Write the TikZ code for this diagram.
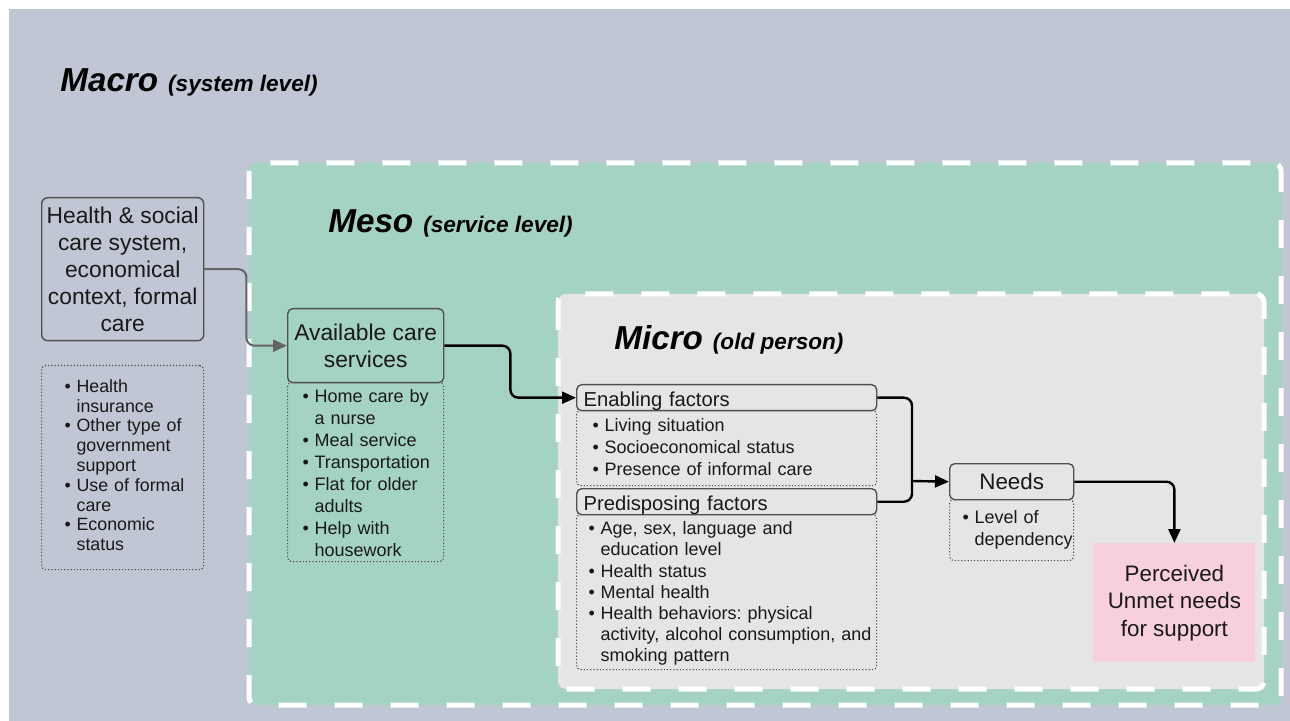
\documentclass[tikz,border=0pt]{standalone}
\usepackage{fontspec}
\setmainfont{Liberation Sans}
\usetikzlibrary{arrows.meta}
\frenchspacing

\definecolor{macrobg}{RGB}{193,198,212}
\definecolor{mesobg}{RGB}{165,211,195}
\definecolor{microbg}{RGB}{229,229,229}
\definecolor{unmetbg}{RGB}{248,207,220}
\definecolor{boxline}{RGB}{80,80,80}
\definecolor{arrowgray}{RGB}{100,100,100}
\definecolor{txt}{RGB}{25,25,25}

\newlength\bulx
\newlength\bulw \setlength\bulw{6pt}
\newcommand\bl[1]{\par\noindent\hspace*{\bulx}\makebox[\bulw][l]{\textbullet}\mbox{#1}}
\newcommand\cl[1]{\par\noindent\hspace*{\bulx}\hspace*{\bulw}\mbox{#1}}
\newcommand\levelnote[1]{\hspace{5pt}{\fontsize{11.3}{14}\selectfont #1}}

\tikzset{
  levelline/.style={draw=white, line width=2.5pt, dash pattern=on 14pt off 14pt, rounded corners=4pt},
  title/.style={anchor=base west, inner sep=0pt, font=\fontsize{16.6}{20}\selectfont\bfseries\itshape},
  hdrbox/.style={draw=boxline, line width=0.7pt, rounded corners=2.5pt, inner sep=0pt, text=txt, anchor=north west},
  factorbox/.style={hdrbox, inner xsep=3.5pt, text width=143pt, minimum height=13pt, align=left,
    text height=9pt, text depth=0.5pt, font=\fontsize{10.1}{12}\selectfont},
  listbox/.style={draw=boxline, line width=0.6pt, densely dotted, rounded corners=2pt, inner sep=0pt,
    align=left, text=txt, anchor=north west, font=\fontsize{9}{11}\selectfont,
    execute at begin node={\setlength\bulx{#1}}},
  lift/.style={execute at begin node={\vspace*{-#1}}},
  conn/.style={line width=1.2pt, rounded corners=4pt, -{Triangle[length=7pt,width=6pt]}}
}

\begin{document}
\begin{tikzpicture}[x=0.5pt, y=-0.5pt]
\useasboundingbox (0,0) rectangle (1290,721);

% levels
\fill[macrobg] (9,9) rectangle (1290,721);
\fill[mesobg, rounded corners=4pt] (249,163) rectangle (1282,705);
\draw[levelline] (249,163) rectangle (1281,705);
\fill[microbg, rounded corners=4pt] (558,294) rectangle (1264,689);
\draw[levelline] (558,294) rectangle (1264,689);

\node[title] (macrot) at (60,92) {Macro\levelnote{(system level)}};
\node[title] (mesot) at (328,233) {Meso\levelnote{(service level)}};
\node[title] (microt) at (614,350) {Micro\levelnote{(old person)}};

% macro
\node[hdrbox, rounded corners=3pt, minimum width=81pt, minimum height=71.5pt, align=center,
  font=\fontsize{11.4}{13.5}\selectfont] (hsys) at (41,197)
  {Health \& social\\care system,\\economical\\context, formal\\care};
\node[listbox=11.5pt, lift=6pt, text width=81pt, minimum height=102pt, font=\fontsize{8.9}{9.9}\selectfont]
  (hsysl) at (41,365)
  {\bl{Health}\cl{insurance}\bl{Other type of}\cl{government}\cl{support}\bl{Use of formal}\cl{care}\bl{Economic}\cl{status}};

% meso
\node[hdrbox, minimum width=78pt, minimum height=37pt, align=center,
  font=\fontsize{11.4}{13.5}\selectfont] (avail) at (287,308) {Available care\\services};
\node[listbox=7.5pt, lift=3.5pt, text width=78pt, minimum height=89.5pt] (availl) at (287,382)
  {\bl{Home care by}\cl{a nurse}\bl{Meal service}\bl{Transportation}\bl{Flat for older}\cl{adults}\bl{Help with}\cl{housework}};

% micro
\node[factorbox] (enab) at (576,384) {Enabling factors};
\node[listbox=8pt, lift=6pt, text width=150pt, minimum height=37.5pt] (enabl) at (576,410)
  {\bl{Living situation}\bl{Socioeconomical status}\bl{Presence of informal care}};
\node[factorbox] (pred) at (576,488) {Predisposing factors};
\node[listbox=6pt, lift=2.5pt, text width=150pt, minimum height=77.5pt, font=\fontsize{9}{10.6}\selectfont] (predl) at (576,514)
  {\bl{Age, sex, language and}\cl{education level}\bl{Health status}\bl{Mental health}\bl{Health behaviors: physical}\cl{activity, alcohol consumption, and}\cl{smoking pattern}};

\node[hdrbox, minimum width=62pt, minimum height=18pt, font=\fontsize{11.2}{13}\selectfont] (needs) at (949,463) {Needs};
\node[listbox=6.5pt, lift=5pt, text width=62pt, minimum height=30.5pt] (needsl) at (949,499)
  {\bl{Level of}\cl{dependency}};

\node[anchor=north west, fill=unmetbg, inner sep=0pt, minimum width=81pt, minimum height=59.5pt,
  align=center, text=txt, font=\fontsize{11.2}{13.7}\selectfont] (unmet) at (1093,543)
  {Perceived\\Unmet needs\\for support};

% connectors
\coordinate (jn) at (912,481);
\draw[conn, draw=arrowgray, line width=1pt] (hsys.east) -- ++(42,0) |- (avail.west);
\draw[conn] (avail.east) -- ++(66,0) |- (enab.west);
\draw[line width=1.2pt, rounded corners=4pt] (enab.east) -| (jn);
\draw[line width=1.2pt, rounded corners=4pt] (pred.east) -| (jn);
\draw[conn] (jn) -- (needs.west);
\draw[conn] (needs.east) -| (unmet.north);
\end{tikzpicture}
\end{document}
